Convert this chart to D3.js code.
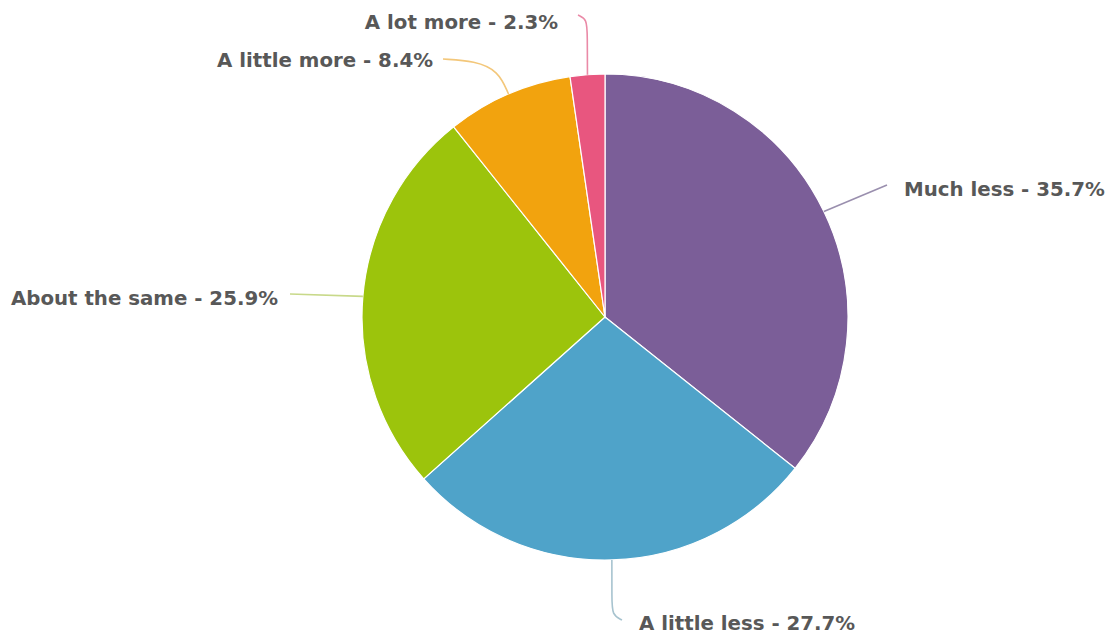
<!DOCTYPE html>
<html><head><meta charset="utf-8">
<script src="https://cdn.jsdelivr.net/npm/d3@7"></script>
<style>body{margin:0;background:#fff}svg{display:block}</style>
</head><body>
<svg id="c" width="1108" height="636"></svg>
<script>
const categories = ["Much less", "A little less", "About the same", "A little more", "A lot more"];
const values = [35.7, 27.7, 25.9, 8.4, 2.3];
const colors = ["#7b5e98", "#4fa3c9", "#9cc40c", "#f2a30e", "#e8567f"];
const lineColors = ["#9a8fae", "#a7c3cf", "#c8d98a", "#f3c77a", "#ea8aa7"];

const W = 1108, H = 636, cx = 605, cy = 317, R = 243;
const svg = d3.select("#c");
const g = svg.append("g").attr("transform", `translate(${cx},${cy})`);
const pie = d3.pie().sort(null).value(d => d)(values);
const arc = d3.arc().innerRadius(0).outerRadius(R);

g.selectAll("path.s").data(pie).join("path")
  .attr("class", "s").attr("d", arc)
  .attr("fill", (d, i) => colors[i])
  .attr("stroke", "#fff").attr("stroke-width", 1.2);

// label layout (relative to center): elbow points, text anchor point
const layout = [
  {via: [[282, -132]], text: [299, -128], anchor: "start"},
  {via: [[7, 298], [17, 303]], text: [34, 306], anchor: "start"},
  {via: [[-315, -23]], text: [-327, -19], anchor: "end"},
  {via: [[-130, -256], [-162, -258]], text: [-172, -257], anchor: "end"},
  {via: [[-18, -298], [-27, -302]], text: [-47, -295], anchor: "end"}
];

pie.forEach((d, i) => {
  const a = (d.startAngle + d.endAngle) / 2;
  const p0 = [R * Math.sin(a), -R * Math.cos(a)];
  const L = layout[i];
  const pts = L.via.length > 1
    ? [p0, [p0[0] + (L.via[0][0]-p0[0])*0.3, p0[1] + (L.via[0][1]-p0[1])*0.7], ...L.via]
    : [p0, ...L.via];
  g.append("path").attr("d", d3.line().curve(d3.curveBasis)(pts)).attr("fill", "none")
    .attr("stroke", lineColors[i]).attr("stroke-width", 1.6);
  g.append("text")
    .attr("x", L.text[0]).attr("y", L.text[1])
    .attr("dy", "0.35em")
    .attr("text-anchor", L.anchor)
    .attr("font-family", "'DejaVu Sans', sans-serif")
    .attr("font-weight", "bold")
    .attr("font-size", 19.8)
    .attr("fill", "#585858")
    .text(`${categories[i]} - ${values[i]}%`);
});
</script>
</body></html>
